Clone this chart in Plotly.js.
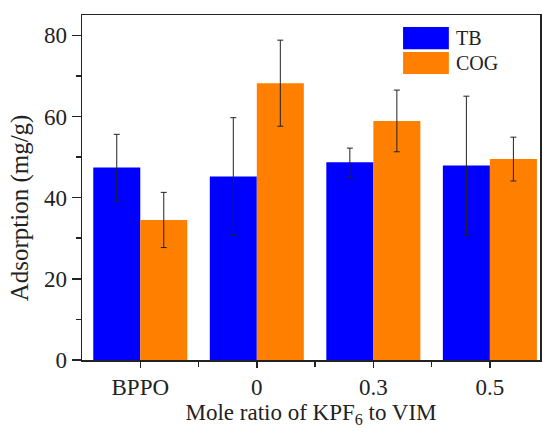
<!DOCTYPE html>
<html>
<head>
<meta charset="utf-8">
<script src="https://cdn.plot.ly/plotly-3.0.1.min.js"></script>
<style>html,body{margin:0;padding:0;background:#fff;}#chart{width:542px;height:432px;}</style>
</head>
<body>
<div id="chart"></div>
<script>
// Data
const categories = ["BPPO", "0", "0.3", "0.5"];
const seriesNames = ["TB", "COG"];
const tbValues = [47.4, 45.2, 48.7, 47.9];
const tbErrors = [8.2, 14.5, 3.5, 17.1];
const cogValues = [34.5, 68.2, 58.9, 49.5];
const cogErrors = [6.8, 10.6, 7.6, 5.4];
const colors = ["#0000FF", "#FF8000"];
const yTitle = "Adsorption (mg/g)";
const xTitle = "Mole ratio of KPF<sub>6</sub> to VIM";

const xIdx = categories.map((c, i) => i);
const font = "'Liberation Serif', 'Times New Roman', serif";

function barTrace(name, vals, errs, color) {
  return {
    type: "bar", name: name, x: xIdx, y: vals,
    marker: {color: color, line: {width: 0}},
    error_y: {type: "data", array: errs, visible: true, color: "#222", thickness: 1, width: 3},
    showlegend: false
  };
}

const data = [
  barTrace(seriesNames[0], tbValues, tbErrors, colors[0]),
  barTrace(seriesNames[1], cogValues, cogErrors, colors[1])
];

// legend drawn as paper-referenced boxes and labels
const legBoxes = [[0.965, 0.901], [0.893, 0.829]];
const shapes = seriesNames.map((n, i) => ({
  type: "rect", xref: "paper", yref: "paper",
  x0: 0.701, x1: 0.801, y0: legBoxes[i][1], y1: legBoxes[i][0],
  fillcolor: colors[i], line: {width: 0}
}));
const annotations = seriesNames.map((n, i) => ({
  xref: "paper", yref: "paper", x: 0.812, y: (legBoxes[i][0] + legBoxes[i][1]) / 2,
  xanchor: "left", yanchor: "middle", text: n, showarrow: false,
  font: {family: font, size: 20, color: "#222"}
}));
annotations.push({
  xref: "paper", yref: "paper", x: -0.135, y: 0.44,
  xanchor: "center", yanchor: "middle", textangle: -90, text: yTitle, showarrow: false,
  font: {family: font, size: 25, color: "#222"}
});

const layout = {
  width: 542, height: 432,
  margin: {l: 82, r: 2, t: 15, b: 72},
  paper_bgcolor: "#fff", plot_bgcolor: "#fff",
  barmode: "group", bargap: 0.193, bargroupgap: 0,
  font: {family: font, size: 23, color: "#222"},
  xaxis: {
    range: [-0.5, 3.43],
    tickvals: xIdx, ticktext: categories,
    ticks: "outside", ticklen: 6, tickwidth: 1.5, tickcolor: "#222",
    minor: {tickvals: [0.5, 1.5, 2.5], ticks: "outside", ticklen: 5, tickwidth: 1.5, tickcolor: "#222"},
    showline: true, linecolor: "#222", linewidth: 1.5, mirror: true,
    showgrid: false, zeroline: false,
    tickfont: {family: font, size: 23, color: "#222"},
    title: {text: xTitle, font: {family: font, size: 23, color: "#222"}, standoff: 3}
  },
  yaxis: {
    range: [0, 85],
    tickvals: [0, 20, 40, 60, 80],
    ticks: "outside", ticklen: 9, tickwidth: 1.5, tickcolor: "#222",
    minor: {tickvals: [10, 30, 50, 70], ticks: "outside", ticklen: 5, tickwidth: 1.5, tickcolor: "#222"},
    showline: true, linecolor: "#222", linewidth: 1.5, mirror: true,
    showgrid: false, zeroline: false,
    tickfont: {family: font, size: 23, color: "#222"}
  },
  shapes: shapes,
  annotations: annotations
};

Plotly.newPlot("chart", data, layout, {displayModeBar: false, staticPlot: true});
</script>
</body>
</html>
